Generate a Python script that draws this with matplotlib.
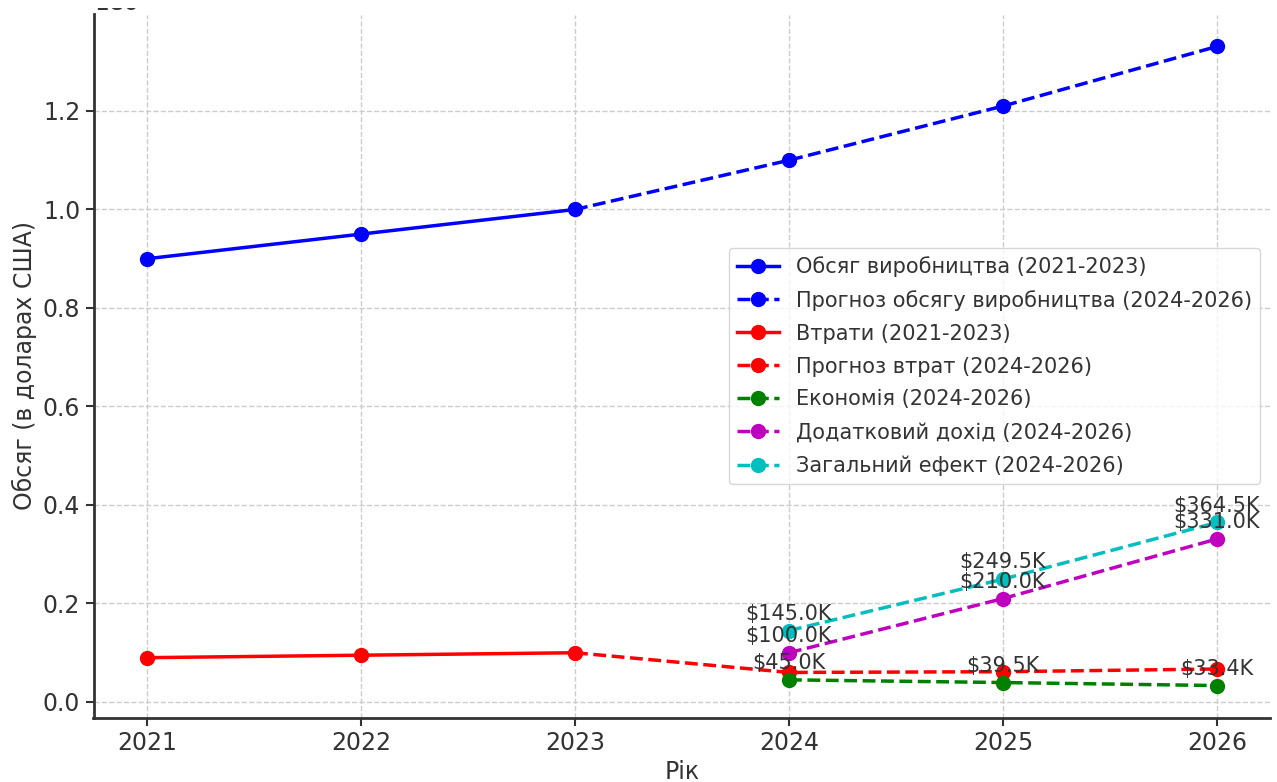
import matplotlib
matplotlib.use("Agg")
import matplotlib.pyplot as plt
from matplotlib.patches import Rectangle

years_hist = [2021, 2022, 2023]
years_fc = [2023, 2024, 2025, 2026]
years_new = [2024, 2025, 2026]

production_hist = [900000, 950000, 1000000]
production_fc = [1000000, 1100000, 1210000, 1331000]
losses_hist = [90000, 95000, 100000]
losses_fc = [100000, 60000, 61500, 67000]
savings = [45000, 39500, 33400]
extra_income = [100000, 210000, 331000]
total_effect = [145000, 249500, 364500]

labels = [
    "Обсяг виробництва (2021-2023)",
    "Прогноз обсягу виробництва (2024-2026)",
    "Втрати (2021-2023)",
    "Прогноз втрат (2024-2026)",
    "Економія (2024-2026)",
    "Додатковий дохід (2024-2026)",
    "Загальний ефект (2024-2026)",
]

TXT = "#333333"
plt.rcParams['font.family'] = ['DejaVu Sans']
plt.rcParams['text.color'] = TXT
plt.rcParams['axes.labelcolor'] = TXT
plt.rcParams['xtick.color'] = TXT
plt.rcParams['ytick.color'] = TXT

fig = plt.figure(figsize=(12.77, 7.82), dpi=100)
ax = fig.add_axes([93.5/1277, (782-717.5)/782, 1177/1277, 703/782])

lw = 2.5
ms = 10
ax.plot(years_hist, production_hist, '-o', color='b', lw=lw, ms=ms, label=labels[0])
ax.plot(years_fc, production_fc, '--o', color='b', lw=lw, ms=ms, label=labels[1], markevery=[1, 2, 3])
ax.plot(years_hist, losses_hist, '-o', color='r', lw=lw, ms=ms, label=labels[2])
ax.plot(years_fc, losses_fc, '--o', color='r', lw=lw, ms=ms, label=labels[3], markevery=[1, 2, 3])
ax.plot(years_new, savings, '--o', color='g', lw=lw, ms=ms, label=labels[4])
ax.plot(years_new, extra_income, '--o', color='m', lw=lw, ms=ms, label=labels[5])
ax.plot(years_new, total_effect, '--o', color='c', lw=lw, ms=ms, label=labels[6])

for series in (savings, extra_income, total_effect):
    for x, y in zip(years_new, series):
        ax.annotate(f"${y/1000:.1f}K", (x, y), textcoords="offset points",
                    xytext=(0, 5), ha='center', va='bottom', fontsize=15, color=TXT)

ax.set_xlabel("Рік", fontsize=17)
ax.set_ylabel("Обсяг (в доларах США)", fontsize=17)
ax.tick_params(axis='both', labelsize=17, width=1.5, length=6, color=TXT)
ax.yaxis.get_offset_text().set_visible(False)
fig.text(94/1277, 1 - 10/782, "1e6", fontsize=17, color=TXT, ha='left', va='baseline')
fig.patches.append(Rectangle((0, 1 - 8/782), 1, 8/782, transform=fig.transFigure,
                             facecolor='white', edgecolor='none', zorder=10))
ax.grid(True, linestyle='--', color='#cccccc', linewidth=1)
for s in ('top', 'right'):
    ax.spines[s].set_visible(False)
for s in ('left', 'bottom'):
    ax.spines[s].set_color(TXT)
    ax.spines[s].set_linewidth(2)

leg = ax.legend(loc='center right', bbox_to_anchor=(1.0, 0.50), fontsize=15,
                frameon=True, fancybox=True, framealpha=0.8, edgecolor='#cccccc',
                handlelength=2, labelspacing=0.62)
for t in leg.get_texts():
    t.set_color(TXT)

fig.savefig("out.png", dpi=100)
